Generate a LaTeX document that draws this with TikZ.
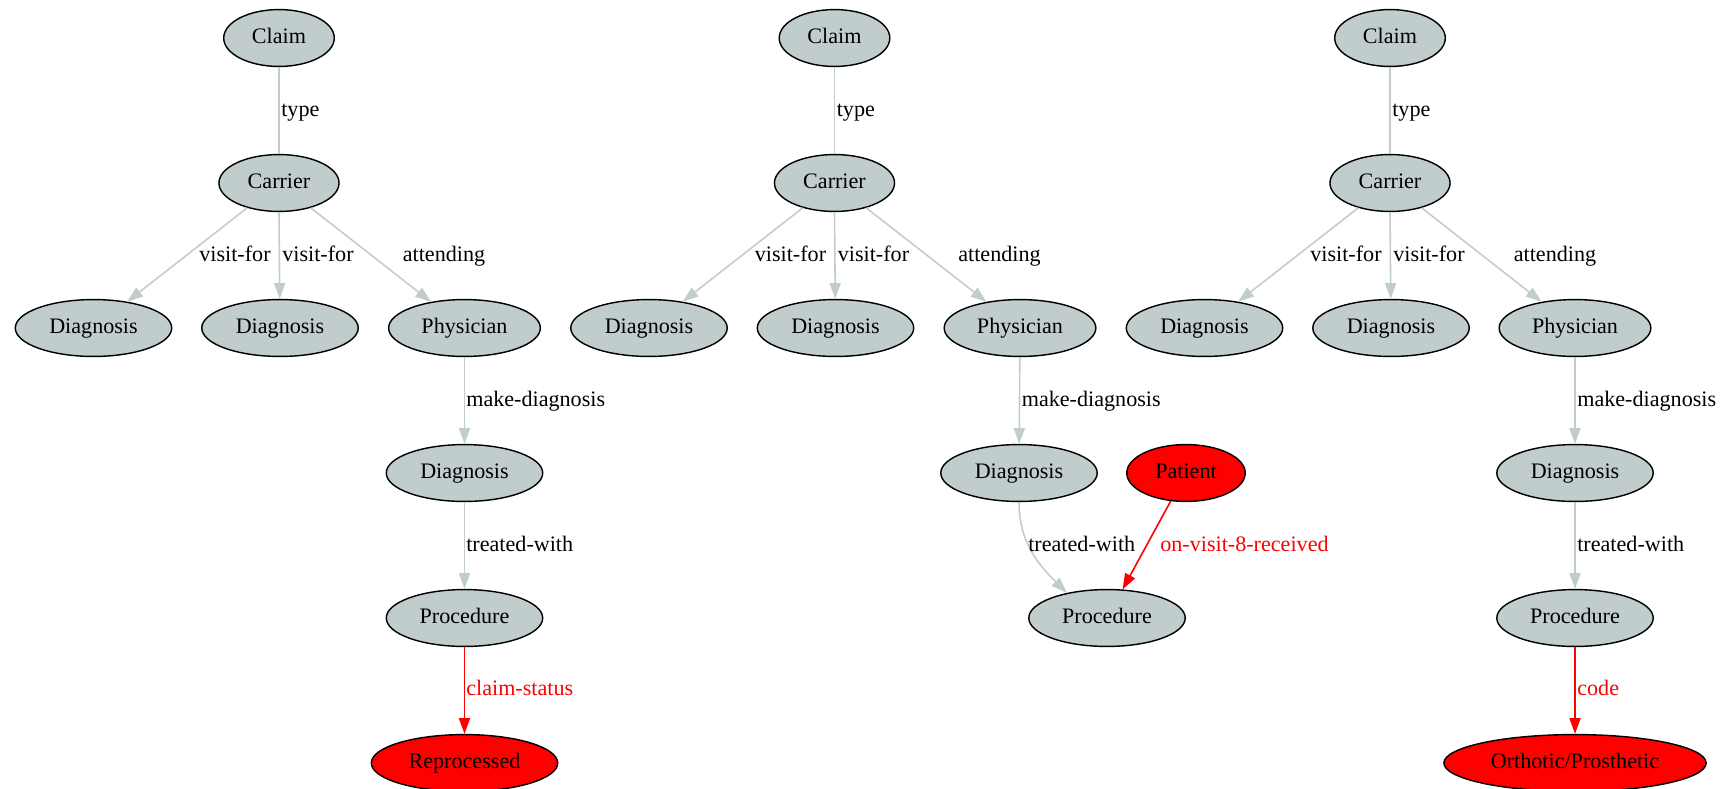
\documentclass[tikz,border=0pt]{standalone}
\usepackage{fontspec}
\setmainfont{Liberation Serif}
\usetikzlibrary{shapes.geometric,arrows.meta}
\definecolor{nodegray}{HTML}{C1CDCD}
\definecolor{edgegray}{HTML}{C1CDCD}
\definecolor{hilite}{HTML}{FF0000}

\begin{document}
\begin{tikzpicture}[x=0.6329pt,y=-0.6329pt,
  every node/.style={font=\fontsize{14pt}{16pt}\selectfont, text height=9.5pt, text depth=2.5pt},
  ent/.style={ellipse, draw=black, line width=0.9pt, fill=nodegray, minimum height=36pt, inner sep=0pt},
  hot/.style={ent, fill=hilite},
  rel/.style={draw=edgegray, line width=1pt, -{Triangle[length=10pt,width=7pt]}},
  bare/.style={draw=edgegray, line width=1pt},
  hotrel/.style={draw=hilite, line width=1pt, -{Triangle[length=10pt,width=7pt]}},
  lbl/.style={inner sep=0pt},
  hotlbl/.style={lbl, text=hilite}]
\useasboundingbox (0,-3) rectangle (1736,785);

% ---------- first graph ----------
\node[ent, minimum width=70pt] (claimA) at (279,35) {Claim};
\node[ent, minimum width=76pt] (carrierA) at (279,180) {Carrier};
\node[ent, minimum width=99pt] (dxA1) at (93.5,325) {Diagnosis};
\node[ent, minimum width=99pt] (dxA2) at (280,325) {Diagnosis};
\node[ent, minimum width=96pt] (physA) at (464.5,325) {Physician};
\node[ent, minimum width=99pt] (dxA3) at (464.5,470) {Diagnosis};
\node[ent, minimum width=99pt] (procA) at (464.5,615) {Procedure};
\node[hot, minimum width=118pt] (reproA) at (464.5,760) {Reprocessed};

\draw[bare] (claimA) -- (carrierA);
\draw[rel] (carrierA) -- (dxA1);
\draw[rel] (carrierA.south) -- (dxA2);
\draw[rel] (carrierA) -- (physA);
\draw[rel] (physA) -- (dxA3);
\draw[rel] (dxA3) -- (procA);
\draw[hotrel] (procA) -- (reproA);

\node[lbl, anchor=west] (typeA) at (281,108) {type};
\node[lbl] (visA1) at (235,253) {visit-for};
\node[lbl] (visA2) at (318,253) {visit-for};
\node[lbl] (attA) at (444,253) {attending};
\node[lbl, anchor=west] (mkA) at (466,398) {make-diagnosis};
\node[lbl, anchor=west] (trA) at (466,543) {treated-with};
\node[hotlbl, anchor=west] (stA) at (466,687) {claim-status};

% ---------- second graph ----------
\node[ent, minimum width=70pt] (claimB) at (834.5,35) {Claim};
\node[ent, minimum width=76pt] (carrierB) at (834.5,180) {Carrier};
\node[ent, minimum width=99pt] (dxB1) at (649,325) {Diagnosis};
\node[ent, minimum width=99pt] (dxB2) at (835.5,325) {Diagnosis};
\node[ent, minimum width=96pt] (physB) at (1020,325) {Physician};
\node[ent, minimum width=99pt] (dxB3) at (1019,470) {Diagnosis};
\node[hot, minimum width=75pt] (patB) at (1186,470) {Patient};
\node[ent, minimum width=99pt] (procB) at (1107,615) {Procedure};

\draw[bare] (claimB) -- (carrierB);
\draw[rel] (carrierB) -- (dxB1);
\draw[rel] (carrierB.south) -- (dxB2);
\draw[rel] (carrierB) -- (physB);
\draw[rel] (physB) -- (dxB3);
\draw[rel] (dxB3.south) to[out=-90,in=135] (procB.148);
\draw[hotrel] (patB) -- (procB);

\node[lbl, anchor=west] (typeB) at (836.5,108) {type};
\node[lbl] (visB1) at (790.5,253) {visit-for};
\node[lbl] (visB2) at (873.5,253) {visit-for};
\node[lbl] (attB) at (999.5,253) {attending};
\node[lbl, anchor=west] (mkB) at (1021.5,398) {make-diagnosis};
\node[lbl, anchor=west] (trB) at (1028,543) {treated-with};
\node[hotlbl, anchor=west] (onB) at (1160,543) {on-visit-8-received};

% ---------- third graph ----------
\node[ent, minimum width=70pt] (claimC) at (1390,35) {Claim};
\node[ent, minimum width=76pt] (carrierC) at (1390,180) {Carrier};
\node[ent, minimum width=99pt] (dxC1) at (1204.5,325) {Diagnosis};
\node[ent, minimum width=99pt] (dxC2) at (1391,325) {Diagnosis};
\node[ent, minimum width=96pt] (physC) at (1575,325) {Physician};
\node[ent, minimum width=99pt] (dxC3) at (1575,470) {Diagnosis};
\node[ent, minimum width=99pt] (procC) at (1575,615) {Procedure};
\node[hot, minimum width=166pt] (orthoC) at (1575,760) {Orthotic/Prosthetic};

\draw[bare] (claimC) -- (carrierC);
\draw[rel] (carrierC) -- (dxC1);
\draw[rel] (carrierC.south) -- (dxC2);
\draw[rel] (carrierC) -- (physC);
\draw[rel] (physC) -- (dxC3);
\draw[rel] (dxC3) -- (procC);
\draw[hotrel] (procC) -- (orthoC);

\node[lbl, anchor=west] (typeC) at (1392,108) {type};
\node[lbl] (visC1) at (1346,253) {visit-for};
\node[lbl] (visC2) at (1429,253) {visit-for};
\node[lbl] (attC) at (1555,253) {attending};
\node[lbl, anchor=west] (mkC) at (1577,398) {make-diagnosis};
\node[lbl, anchor=west] (trC) at (1577,543) {treated-with};
\node[hotlbl, anchor=west] (cdC) at (1577,687) {code};
\end{tikzpicture}
\end{document}
